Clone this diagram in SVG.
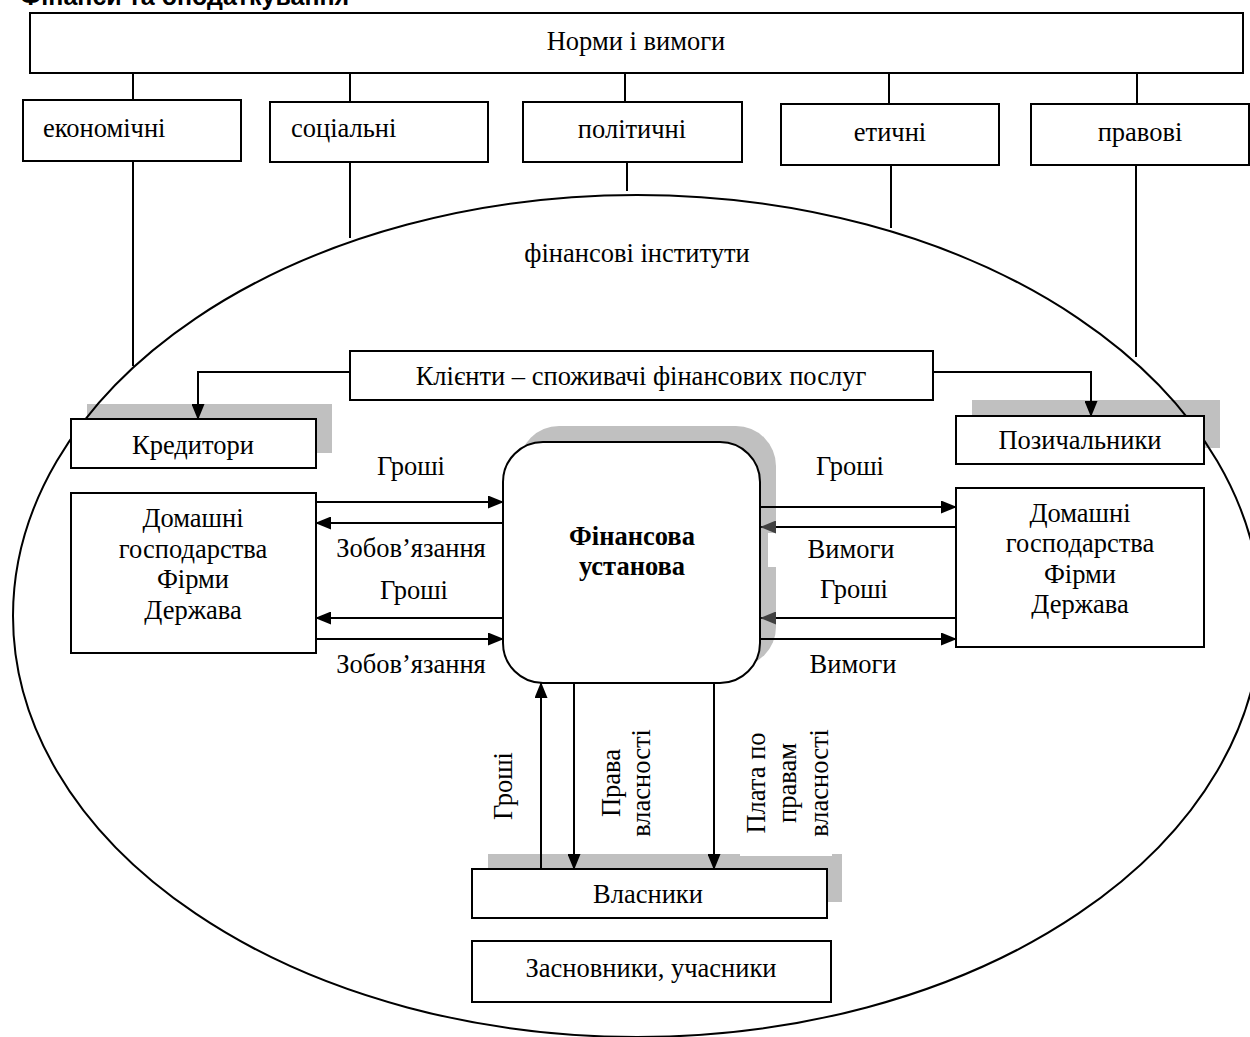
<svg xmlns="http://www.w3.org/2000/svg" width="1250" height="1037" viewBox="0 0 1250 1037">
<style>
text{font-family:"Liberation Serif","Times New Roman",serif;font-size:26.5px;fill:#000}
.c{text-anchor:middle}
.b{font-weight:bold}
.box{fill:#fff;stroke:#000;stroke-width:2}
.sh{fill:#c0c0c0;stroke:none}
.ln{fill:none;stroke:#000;stroke-width:2}
.ar{fill:none;stroke:#000;stroke-width:2;marker-end:url(#ah)}
.ar2{fill:none;stroke:#000;stroke-width:2;marker-end:url(#ahg)}
.title{font-family:"Liberation Sans",Arial,sans-serif;font-weight:bold;font-size:25px}
</style>
<defs>
<marker id="ah" markerWidth="16" markerHeight="13" refX="15" refY="6.5" orient="auto" markerUnits="userSpaceOnUse"><path d="M0,0 L16,6.5 L0,13 z" fill="#000"/></marker>
<marker id="ahg" markerWidth="16" markerHeight="13" refX="15" refY="6.5" orient="auto" markerUnits="userSpaceOnUse"><path d="M0,0 L16,6.5 L0,13 z" fill="#404040"/></marker>
</defs>
<rect width="1250" height="1037" fill="#fff"/>
<text class="title" x="20" y="5">Фінанси та оподаткування</text>

<g id="shadows">
<rect class="sh" x="87" y="404" width="245" height="49"/>
<rect class="sh" x="972" y="400" width="248" height="48"/>
<rect class="sh" x="519" y="426" width="257" height="241" rx="40"/>
<rect x="768" y="533" width="10" height="34" fill="#fff"/>
<rect class="sh" x="488" y="854" width="354" height="48"/>
<rect x="740" y="849" width="92" height="7" fill="#fff"/>
</g>

<g id="institutions">
<ellipse cx="637" cy="616" rx="624" ry="421" fill="none" stroke="#000" stroke-width="2"/>
<text class="c" x="637" y="262">фінансові інститути</text>
</g>

<g id="connectors">
<line class="ln" x1="133" y1="73" x2="133" y2="100"/>
<line class="ln" x1="350" y1="73" x2="350" y2="102"/>
<line class="ln" x1="625" y1="73" x2="625" y2="102"/>
<line class="ln" x1="889" y1="73" x2="889" y2="104"/>
<line class="ln" x1="1137" y1="73" x2="1137" y2="104"/>
<line class="ln" x1="133" y1="161" x2="133" y2="366"/>
<line class="ln" x1="350" y1="162" x2="350" y2="238"/>
<line class="ln" x1="627" y1="162" x2="627" y2="191"/>
<line class="ln" x1="891" y1="165" x2="891" y2="228"/>
<line class="ln" x1="1136" y1="161" x2="1136" y2="357"/>
<path class="ar" d="M350,372 H198 V419"/>
<path class="ar" d="M933,372 H1091 V416"/>
<line class="ar" x1="316" y1="502" x2="503" y2="502"/>
<line class="ar" x1="503" y1="523" x2="316" y2="523"/>
<line class="ar" x1="503" y1="618" x2="316" y2="618"/>
<line class="ar" x1="316" y1="639" x2="503" y2="639"/>
<line class="ar" x1="760" y1="507" x2="956" y2="507"/>
<line class="ar2" x1="956" y1="527" x2="761" y2="527"/>
<line class="ar2" x1="956" y1="618" x2="761" y2="618"/>
<line class="ar" x1="760" y1="639" x2="956" y2="639"/>
<line class="ar" x1="541" y1="869" x2="541" y2="683"/>
<line class="ar" x1="574" y1="683" x2="574" y2="869"/>
<line class="ar" x1="714" y1="683" x2="714" y2="869"/>
<text class="c" x="411" y="475">Гроші</text>
<text class="c" x="411" y="557">Зобов’язання</text>
<text class="c" x="414" y="599">Гроші</text>
<text class="c" x="411" y="673">Зобов’язання</text>
<text class="c" x="850" y="475">Гроші</text>
<text class="c" x="851" y="558">Вимоги</text>
<text class="c" x="854" y="598">Гроші</text>
<text class="c" x="853" y="673">Вимоги</text>
<text class="c" transform="translate(512,786) rotate(-90)">Гроші</text>
<text class="c" transform="translate(620,783) rotate(-90)">Права</text>
<text class="c" transform="translate(650,783) rotate(-90)">власності</text>
<text class="c" transform="translate(765,783) rotate(-90)">Плата по</text>
<text class="c" transform="translate(796,783) rotate(-90)">правам</text>
<text class="c" transform="translate(828,783) rotate(-90)">власності</text>
</g>

<g id="norms">
<rect class="box" x="30" y="13" width="1213" height="60"/>
<text class="c" x="636" y="50">Норми і вимоги</text>
</g>
<g id="economic">
<rect class="box" x="23" y="100" width="218" height="61"/>
<text x="43" y="137">економічні</text>
</g>
<g id="social">
<rect class="box" x="270" y="102" width="218" height="60"/>
<text x="291" y="137">соціальні</text>
</g>
<g id="political">
<rect class="box" x="523" y="102" width="219" height="60"/>
<text class="c" x="632" y="138">політичні</text>
</g>
<g id="ethical">
<rect class="box" x="781" y="104" width="218" height="61"/>
<text class="c" x="890" y="141">етичні</text>
</g>
<g id="legal">
<rect class="box" x="1031" y="104" width="218" height="61"/>
<text class="c" x="1140" y="141">правові</text>
</g>

<g id="clients">
<rect class="box" x="350" y="351" width="583" height="49"/>
<text class="c" x="641" y="385">Клієнти – споживачі фінансових послуг</text>
</g>
<g id="creditors">
<rect class="box" x="71" y="419" width="245" height="49"/>
<text class="c" x="193" y="454">Кредитори</text>
</g>
<g id="borrowers">
<rect class="box" x="956" y="416" width="248" height="48"/>
<text class="c" x="1080" y="449">Позичальники</text>
</g>
<g id="lenders-group">
<rect class="box" x="71" y="493" width="245" height="160"/>
<text class="c" x="193" y="527">Домашні</text>
<text class="c" x="193" y="558">господарства</text>
<text class="c" x="193" y="588">Фірми</text>
<text class="c" x="193" y="619">Держава</text>
</g>
<g id="borrowers-group">
<rect class="box" x="956" y="488" width="248" height="159"/>
<text class="c" x="1080" y="522">Домашні</text>
<text class="c" x="1080" y="552">господарства</text>
<text class="c" x="1080" y="583">Фірми</text>
<text class="c" x="1080" y="613">Держава</text>
</g>
<g id="institution">
<rect class="box" x="503" y="442" width="257" height="241" rx="40"/>
<text class="c b" x="632" y="545">Фінансова</text>
<text class="c b" x="632" y="575">установа</text>
</g>
<g id="owners">
<rect class="box" x="472" y="869" width="355" height="49"/>
<text class="c" x="648" y="903">Власники</text>
</g>
<g id="founders">
<rect class="box" x="472" y="941" width="359" height="61"/>
<text class="c" x="651" y="977">Засновники, учасники</text>
</g>
</svg>
